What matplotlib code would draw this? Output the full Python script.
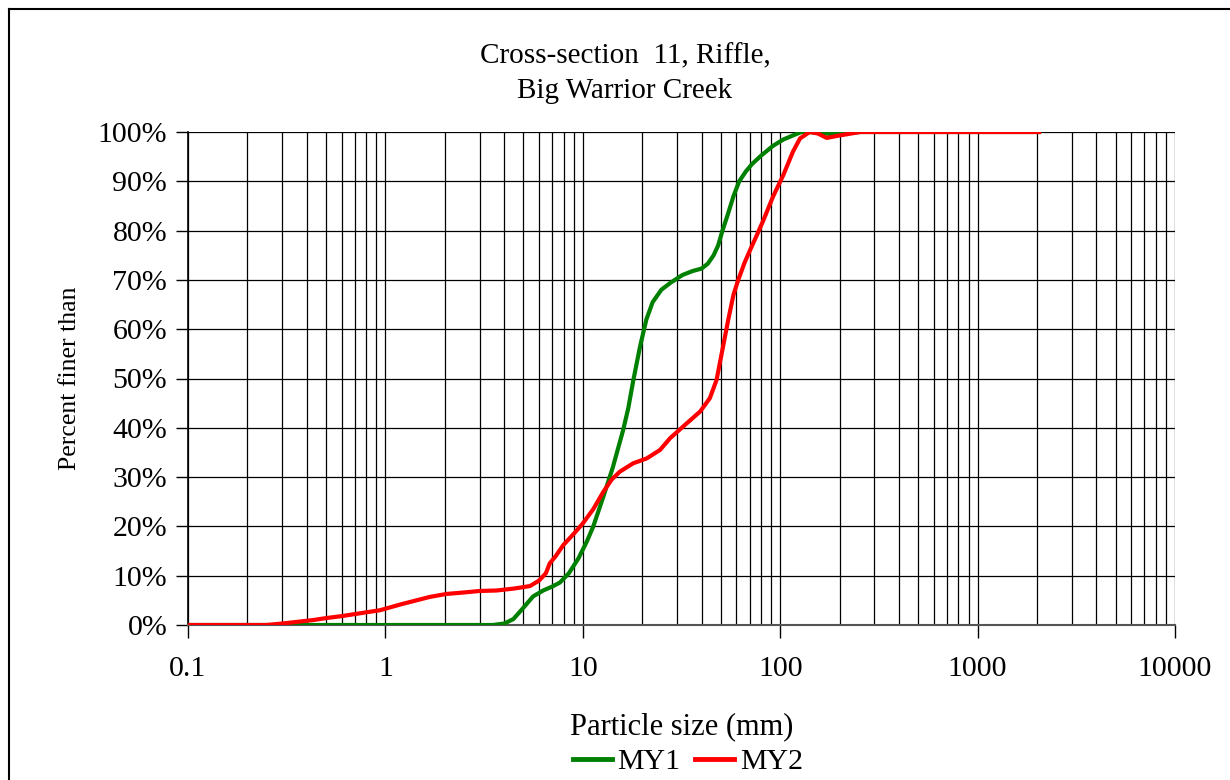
import matplotlib.pyplot as plt
from matplotlib.ticker import LogLocator, FixedLocator, FuncFormatter, NullFormatter
from matplotlib.lines import Line2D

plt.rcParams['font.family'] = ['Liberation Serif', 'DejaVu Serif']

# MY1 grain size distribution (mm, percent finer)
my1_size = [0.1, 2, 3.5, 4.0, 4.45, 5.0, 5.6, 6.3, 7.0, 7.65, 8.5, 9.5, 10.5, 11.3,
            12.7, 14.2, 16, 17, 18, 19.5, 21, 22.6, 25, 28, 32, 36, 40, 43, 46, 48.5,
            51, 54, 58, 62, 67, 72, 80, 92, 104, 116, 128, 140, 180, 256, 512, 1024, 2048]
my1_pct = [0, 0, 0, 0.3, 1.2, 3.5, 5.8, 7.0, 7.8, 8.6, 10.5, 13.5, 17, 20,
           26, 32, 39.5, 44, 49.5, 56.5, 62, 65.5, 68, 69.5, 71, 71.8, 72.3, 73.3, 75, 77,
           80, 83, 87, 90, 92, 93.5, 95.2, 97.2, 98.5, 99.3, 100, 100, 99.6, 100, 100, 100, 100]

# MY2 grain size distribution
my2_size = [0.1, 0.25, 0.3, 0.43, 0.5, 0.6, 0.94, 1.2, 1.68, 2.04, 2.5, 3.0, 3.66, 4.5,
            5.4, 6.0, 6.5, 6.8, 7.3, 7.96, 9.0, 10, 11.3, 12.7, 14, 15.4, 18, 21.1, 24.6,
            27.7, 33.6, 39.3, 44, 47.6, 50.5, 54.6, 58, 61.3, 66, 70.3, 76, 82, 92, 103.8,
            116, 126, 141, 155, 172, 200, 254, 512, 1024, 2048]
my2_pct = [0, 0, 0.3, 1.0, 1.4, 1.8, 3.0, 4.2, 5.7, 6.3, 6.6, 6.9, 7.0, 7.4,
           7.9, 9.0, 10.5, 12.5, 14, 16.2, 18.5, 20.6, 23.5, 27, 29.5, 31.1, 32.8, 33.8, 35.5,
           37.9, 40.9, 43.3, 46, 49.7, 55, 62, 67, 70, 73.5, 76, 79, 82, 86.9, 91.3,
           96, 98.7, 100, 99.7, 98.8, 99.3, 100, 100, 100, 100]

x_ticks = [0.1, 1, 10, 100, 1000, 10000]
y_ticks = [0, 10, 20, 30, 40, 50, 60, 70, 80, 90, 100]

fig = plt.figure(figsize=(12.3, 7.8), dpi=100)
ax = fig.add_axes([188 / 1230, 1 - 625 / 780, (1175 - 188) / 1230, (625 - 132) / 780])

ax.plot(my1_size, my1_pct, color='#008000', lw=3, solid_joinstyle='round', zorder=3)
ax.plot(my2_size, my2_pct, color='#ff0000', lw=3, solid_joinstyle='round', zorder=4)

ax.set_xscale('log')
ax.set_xlim(0.1, 10000)
ax.set_ylim(0, 100)
ax.xaxis.set_major_locator(FixedLocator(x_ticks))
ax.xaxis.set_major_formatter(FuncFormatter(lambda v, p: ('%g' % v)))
ax.xaxis.set_minor_locator(LogLocator(base=10, subs=range(2, 10), numticks=50))
ax.xaxis.set_minor_formatter(NullFormatter())
ax.yaxis.set_major_locator(FixedLocator(y_ticks))
ax.yaxis.set_major_formatter(FuncFormatter(lambda v, p: '%d%%' % v))

ax.grid(True, which='both', axis='x', color='black', lw=0.9)
ax.grid(True, which='major', axis='y', color='black', lw=0.9)
ax.set_axisbelow(True)

for s in ['top', 'right']:
    ax.spines[s].set_visible(False)
ax.spines['left'].set_color('black')
ax.spines['bottom'].set_color('#555555')
ax.spines['left'].set_linewidth(1.2)
ax.spines['bottom'].set_linewidth(1.5)

ax.tick_params(axis='x', which='major', direction='out', length=9, width=1, color='black',
               labelsize=21.5, pad=13)
ax.tick_params(axis='x', which='minor', length=0)
ax.tick_params(axis='y', direction='out', length=9, width=1, color='black', labelsize=21.5, pad=6)

ax.set_xlabel('Particle size (mm)', fontsize=22, labelpad=22)
ax.set_ylabel('Percent finer than', fontsize=18.5, labelpad=12)

fig.text(625 / 1230, 1 - 56 / 780, 'Cross-section  11, Riffle,', ha='center', va='center', fontsize=21)
fig.text(625 / 1230, 1 - 91 / 780, 'Big Warrior Creek', ha='center', va='center', fontsize=21)

handles = [Line2D([], [], color='#008000', lw=3.5), Line2D([], [], color='#ff0000', lw=3.5)]
fig.legend(handles, ['MY1', 'MY2'], loc='center', bbox_to_anchor=(688 / 1230, 1 - 762 / 780),
           ncol=2, frameon=False, fontsize=21.5, handlelength=1.3, handletextpad=0.2,
           columnspacing=0.5, borderpad=0)

# outer chart border
fig.add_artist(Line2D([9 / 1230, 1.0], [1 - 9 / 780, 1 - 9 / 780], color='black', lw=1.5))
fig.add_artist(Line2D([9 / 1230, 9 / 1230], [0.0, 1 - 9 / 780], color='black', lw=1.5))

fig.savefig('out.png', dpi=100)
